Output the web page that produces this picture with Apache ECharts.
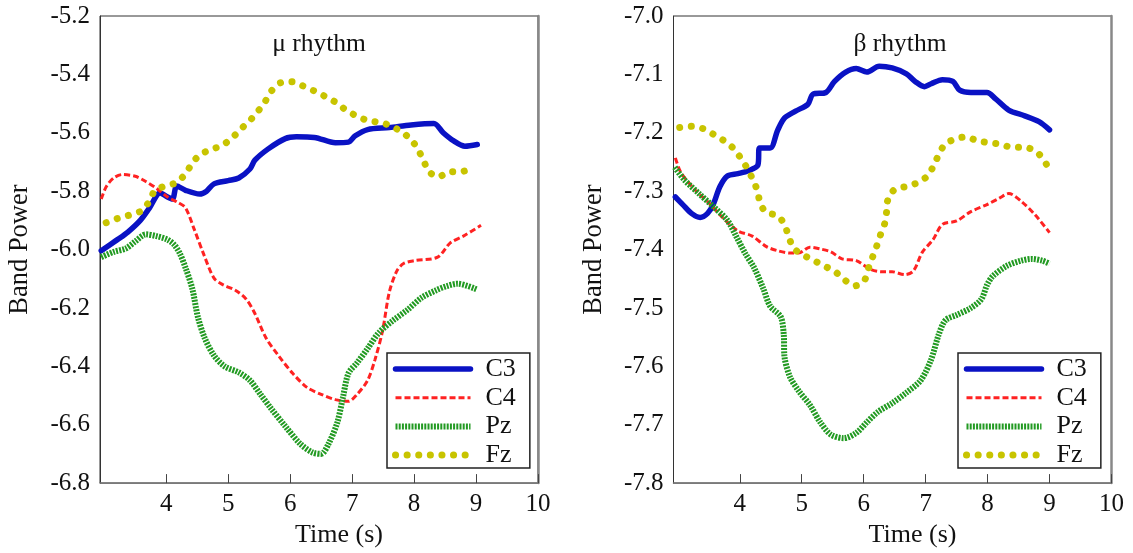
<!DOCTYPE html>
<html>
<head>
<meta charset="utf-8">
<script src="https://cdn.jsdelivr.net/npm/echarts@6/dist/echarts.min.js"></script>
<style>
  html, body { margin: 0; padding: 0; background: #fff; }
  #chart { width: 1133px; height: 553px; }
</style>
</head>
<body>
<div id="chart"></div>
<script>
// 刻度
var xTicks = [4, 5, 6, 7, 8, 9, 10];
var names = ['C3', 'C4', 'Pz', 'Fz'];
var titles = ['\u03bc rhythm', '\u03b2 rhythm'];

// mu rhythm  [time, power]
var muC3 = [[2.95,-6.004],[3.21,-5.966],[3.38,-5.94],[3.58,-5.90],[3.73,-5.857],[3.90,-5.806],[4.02,-5.82],[4.10,-5.827],[4.17,-5.782],[4.31,-5.797],[4.54,-5.81],[4.65,-5.80],[4.77,-5.775],[5.0,-5.764],[5.17,-5.755],[5.35,-5.724],[5.43,-5.694],[5.64,-5.656],[5.92,-5.62],[6.10,-5.614],[6.39,-5.616],[6.73,-5.634],[6.94,-5.632],[7.05,-5.61],[7.25,-5.589],[7.60,-5.582],[7.95,-5.573],[8.32,-5.568],[8.47,-5.60],[8.64,-5.628],[8.82,-5.646],[9.02,-5.64]];
var muC4 = [[2.95,-5.827],[3.03,-5.785],[3.15,-5.755],[3.29,-5.743],[3.50,-5.749],[3.67,-5.767],[3.84,-5.79],[4.02,-5.82],[4.19,-5.839],[4.31,-5.857],[4.45,-5.93],[4.60,-6.014],[4.77,-6.098],[4.91,-6.12],[5.12,-6.14],[5.29,-6.17],[5.43,-6.219],[5.61,-6.303],[5.81,-6.363],[6.04,-6.424],[6.27,-6.472],[6.50,-6.496],[6.73,-6.514],[6.94,-6.52],[7.08,-6.496],[7.25,-6.448],[7.37,-6.376],[7.49,-6.279],[7.60,-6.146],[7.72,-6.074],[7.83,-6.048],[8.01,-6.038],[8.38,-6.026],[8.58,-5.978],[8.82,-5.951],[9.08,-5.917]];
var muPz = [[2.95,-6.026],[3.15,-6.008],[3.35,-5.996],[3.50,-5.972],[3.67,-5.948],[3.84,-5.954],[4.02,-5.966],[4.13,-5.984],[4.22,-6.014],[4.31,-6.062],[4.42,-6.134],[4.51,-6.231],[4.62,-6.303],[4.77,-6.363],[4.94,-6.40],[5.17,-6.421],[5.35,-6.448],[5.52,-6.496],[5.69,-6.544],[5.92,-6.605],[6.16,-6.665],[6.36,-6.695],[6.50,-6.70],[6.62,-6.665],[6.76,-6.593],[6.85,-6.508],[6.94,-6.424],[7.08,-6.388],[7.25,-6.339],[7.43,-6.285],[7.66,-6.243],[7.89,-6.207],[8.12,-6.165],[8.35,-6.14],[8.53,-6.125],[8.70,-6.117],[9.02,-6.137]];
var muFz = [[3.03,-5.908],[3.22,-5.893],[3.42,-5.881],[3.61,-5.866],[3.73,-5.833],[3.82,-5.797],[3.99,-5.782],[4.17,-5.770],[4.31,-5.740],[4.42,-5.704],[4.55,-5.674],[4.72,-5.658],[4.91,-5.642],[5.06,-5.618],[5.20,-5.588],[5.35,-5.558],[5.47,-5.529],[5.59,-5.495],[5.69,-5.459],[5.84,-5.429],[6.02,-5.425],[6.20,-5.439],[6.39,-5.457],[6.56,-5.475],[6.73,-5.495],[6.90,-5.522],[7.06,-5.541],[7.25,-5.558],[7.46,-5.565],[7.63,-5.577],[7.80,-5.597],[7.95,-5.623],[8.06,-5.656],[8.15,-5.694],[8.24,-5.733],[8.39,-5.751],[8.57,-5.734],[8.77,-5.733],[8.96,-5.716]];

// beta rhythm
var betaC3 = [[2.96,-7.310],[3.08,-7.323],[3.22,-7.338],[3.36,-7.345],[3.48,-7.338],[3.57,-7.323],[3.68,-7.292],[3.80,-7.274],[3.97,-7.270],[4.14,-7.265],[4.29,-7.256],[4.32,-7.226],[4.49,-7.226],[4.61,-7.196],[4.72,-7.175],[4.90,-7.163],[5.10,-7.151],[5.18,-7.134],[5.39,-7.131],[5.53,-7.112],[5.71,-7.096],[5.88,-7.090],[6.05,-7.096],[6.25,-7.086],[6.46,-7.089],[6.69,-7.099],[6.83,-7.112],[6.98,-7.121],[7.09,-7.116],[7.27,-7.109],[7.44,-7.112],[7.55,-7.127],[7.73,-7.131],[7.99,-7.131],[8.13,-7.142],[8.34,-7.161],[8.60,-7.171],[8.83,-7.181],[9.00,-7.195]];
var betaC4 = [[2.96,-7.243],[3.05,-7.268],[3.28,-7.298],[3.51,-7.321],[3.74,-7.347],[3.97,-7.368],[4.20,-7.377],[4.43,-7.395],[4.61,-7.402],[4.81,-7.406],[4.95,-7.406],[5.13,-7.396],[5.30,-7.399],[5.47,-7.404],[5.65,-7.416],[5.88,-7.419],[6.11,-7.434],[6.28,-7.438],[6.46,-7.438],[6.66,-7.443],[6.80,-7.437],[6.95,-7.404],[7.12,-7.383],[7.27,-7.357],[7.50,-7.351],[7.73,-7.335],[7.99,-7.323],[8.19,-7.312],[8.34,-7.304],[8.54,-7.317],[8.77,-7.341],[9.00,-7.371]];
var betaPz = [[2.95,-7.259],[3.10,-7.280],[3.34,-7.304],[3.57,-7.326],[3.80,-7.350],[3.94,-7.377],[4.09,-7.407],[4.23,-7.431],[4.38,-7.467],[4.49,-7.497],[4.66,-7.515],[4.71,-7.546],[4.72,-7.582],[4.81,-7.618],[4.95,-7.642],[5.13,-7.666],[5.30,-7.696],[5.47,-7.717],[5.68,-7.723],[5.88,-7.714],[6.05,-7.696],[6.23,-7.678],[6.46,-7.663],[6.69,-7.645],[6.92,-7.624],[7.09,-7.588],[7.21,-7.546],[7.32,-7.521],[7.50,-7.512],[7.73,-7.500],[7.90,-7.485],[7.99,-7.461],[8.08,-7.446],[8.31,-7.428],[8.54,-7.419],[8.71,-7.416],[8.88,-7.419],[9.00,-7.424]];
var betaFz = [[3.03,-7.191],[3.22,-7.189],[3.41,-7.193],[3.58,-7.203],[3.75,-7.214],[3.90,-7.227],[4.02,-7.244],[4.12,-7.261],[4.21,-7.280],[4.28,-7.298],[4.33,-7.320],[4.42,-7.336],[4.61,-7.342],[4.72,-7.357],[4.79,-7.378],[4.87,-7.398],[5.02,-7.409],[5.20,-7.419],[5.38,-7.429],[5.54,-7.438],[5.69,-7.452],[5.86,-7.462],[6.01,-7.453],[6.07,-7.434],[6.14,-7.414],[6.21,-7.394],[6.27,-7.375],[6.34,-7.355],[6.37,-7.335],[6.39,-7.315],[6.50,-7.297],[6.69,-7.292],[6.86,-7.286],[7.03,-7.274],[7.13,-7.256],[7.21,-7.238],[7.31,-7.220],[7.47,-7.211],[7.65,-7.207],[7.84,-7.214],[8.03,-7.217],[8.22,-7.220],[8.40,-7.225],[8.60,-7.225],[8.78,-7.232],[8.91,-7.247],[9.00,-7.265]];

var font = 'Liberation Serif';
var lineStyles = {
    C3: { color: '#0a12c4', width: 5.5, type: 'solid', cap: 'round' },
    C4: { color: '#ff2222', width: 3, type: [6, 3] },
    Pz: { color: '#229a22', width: 6, type: [2, 1.2] },
    Fz: { color: '#c8c400', width: 7, type: [0.1, 11.5], cap: 'round' }
};

function makeGrid(left) {
    return { left: left, top: 16, width: 438, height: 468, show: true, borderColor: '#333', borderWidth: 1 };
}
function makeX(idx) {
    return {
        type: 'value', gridIndex: idx, min: 2.93, max: 10,
        name: 'Time (s)', nameLocation: 'middle', nameGap: 38,
        nameTextStyle: { fontFamily: font, fontSize: 26, color: '#111', padding: [0, 0, 0, 40] },
        axisLine: { lineStyle: { color: '#777', width: 1.5 } },
        axisTick: { inside: true, length: 9, customValues: xTicks, lineStyle: { color: '#444' } },
        axisLabel: { customValues: xTicks, margin: 9, fontFamily: font, fontSize: 25, color: '#111' },
        splitLine: { show: false }
    };
}
function makeY(idx, min, max, step) {
    return {
        type: 'value', gridIndex: idx, min: min, max: max, interval: step,
        name: 'Band Power', nameLocation: 'middle', nameGap: 66,
        nameTextStyle: { fontFamily: font, fontSize: 26.5, color: '#111' },
        axisLine: { show: true, lineStyle: { color: '#333', width: 1 } },
        axisTick: { show: false },
        axisLabel: { margin: 10, fontFamily: font, fontSize: 25, color: '#111',
            formatter: function (v) { return v.toFixed(1); } },
        splitLine: { show: false }
    };
}
function borderY(idx, min, max) {
    return {
        type: 'value', gridIndex: idx, position: 'right', min: min, max: max,
        axisLine: { show: true, lineStyle: { color: '#888', width: 2.5 } },
        axisTick: { show: false }, axisLabel: { show: false }, splitLine: { show: false }
    };
}
function makeLegend(left) {
    return {
        orient: 'vertical', left: left, top: 353,
        padding: [3, 14, 0, 5],
        itemWidth: 75, itemHeight: 16, itemGap: 2.7,
        borderColor: '#222', borderWidth: 1.5,
        itemStyle: { opacity: 0 },
        textStyle: { fontFamily: font, fontSize: 26, color: '#111', padding: [0, 0, 0, 10] },
        data: names.map(function (n) {
            return { name: n, lineStyle: lineStyles[n], itemStyle: { opacity: 0 } };
        })
    };
}
function makeSeries(data, name, xi, yi) {
    return {
        type: 'line', name: name, data: data,
        xAxisIndex: xi, yAxisIndex: yi,
        symbol: 'none', smooth: 0.3,
        lineStyle: lineStyles[name],
        animation: false
    };
}

const chart = echarts.init(document.getElementById('chart'), null, { renderer: 'canvas' });
var titleStyle = { fontFamily: font, fontSize: 25.5, fontWeight: 'normal', color: '#111' };
var option = {
    backgroundColor: '#fff',
    animation: false,
    title: [
        { text: titles[0], left: 314, top: 26, textAlign: 'center', textStyle: titleStyle },
        { text: titles[1], left: 895, top: 26, textAlign: 'center', textStyle: titleStyle }
    ],
    legend: [makeLegend(387), makeLegend(958)],
    grid: [makeGrid(100), makeGrid(673.5)],
    xAxis: [makeX(0), makeX(1)],
    yAxis: [makeY(0, -6.8, -5.2, 0.2), borderY(0, -6.8, -5.2), makeY(1, -7.8, -7.0, 0.1), borderY(1, -7.8, -7.0)],
    series: [
        makeSeries(muC3, 'C3', 0, 0),
        makeSeries(muC4, 'C4', 0, 0),
        makeSeries(muPz, 'Pz', 0, 0),
        makeSeries(muFz, 'Fz', 0, 0),
        makeSeries(betaC3, 'C3', 1, 2),
        makeSeries(betaC4, 'C4', 1, 2),
        makeSeries(betaPz, 'Pz', 1, 2),
        makeSeries(betaFz, 'Fz', 1, 2)
    ]
};
chart.setOption(option);
</script>
</body>
</html>
